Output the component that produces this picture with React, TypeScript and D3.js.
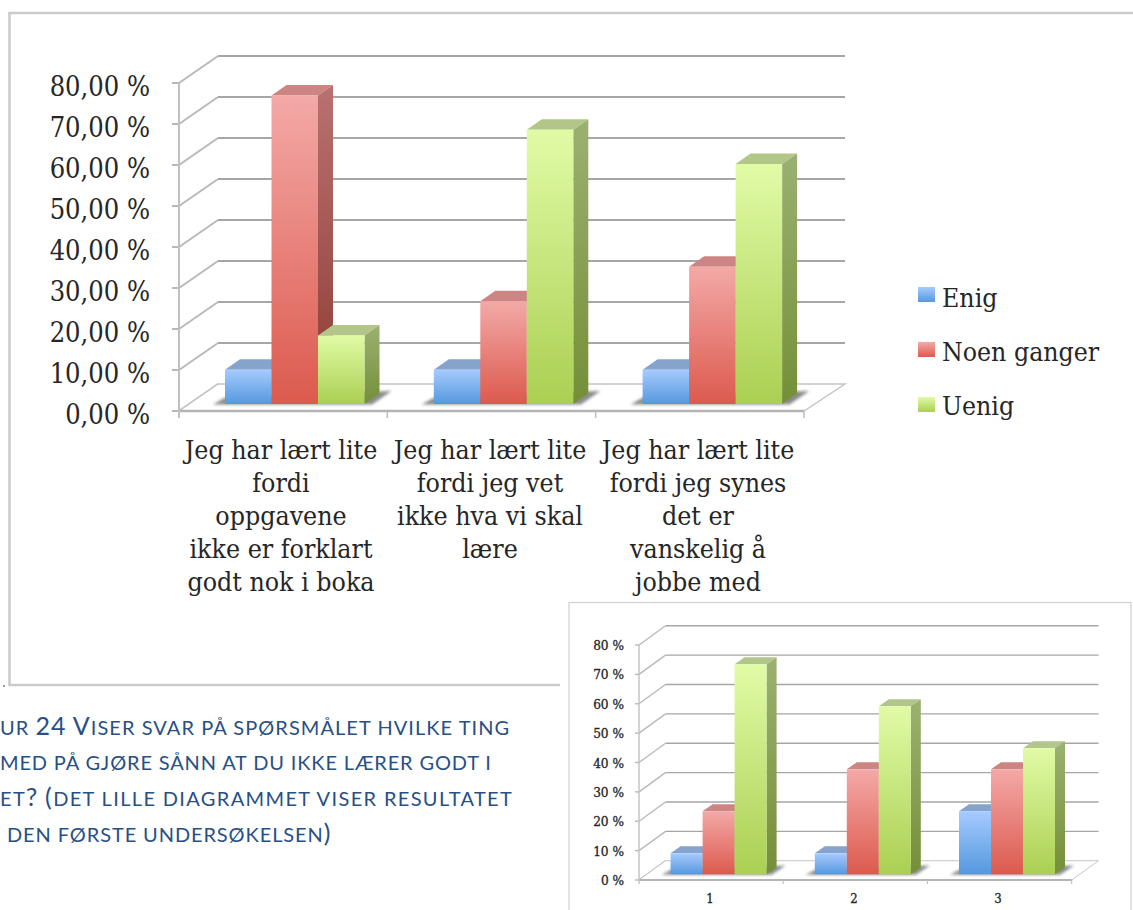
import React from "react";
import * as d3 from "d3";

// Series names shared by both panels
const seriesNames = ["Enig", "Noen ganger", "Uenig"];

// Main panel: second survey, share of answers per statement
const mainCategories = [
  ["Jeg har lært lite", "fordi", "oppgavene", "ikke er forklart", "godt nok i boka"],
  ["Jeg har lært lite", "fordi jeg vet", "ikke hva vi skal", "lære"],
  ["Jeg har lært lite", "fordi jeg synes", "det er", "vanskelig å", "jobbe med"],
];
const mainEnig = [8.33, 8.33, 8.33];
const mainNoenGanger = [75, 25, 33.33];
const mainUenig = [16.67, 66.67, 58.33];
const mainTicks = ["0,00 %", "10,00 %", "20,00 %", "30,00 %", "40,00 %", "50,00 %", "60,00 %", "70,00 %", "80,00 %"];

// Inset panel: first survey
const insetCategories = [["1"], ["2"], ["3"]];
const insetEnig = [7.14, 7.14, 21.43];
const insetNoenGanger = [21.43, 35.71, 35.71];
const insetUenig = [71.43, 57.14, 42.86];
const insetTicks = ["0 %", "10 %", "20 %", "30 %", "40 %", "50 %", "60 %", "70 %", "80 %"];

const captionLines = [
  "ur 24 Viser svar på spørsmålet hvilke ting",
  "med på gjøre sånn at du ikke lærer godt i",
  "et? (det lille diagrammet viser resultatet",
  "den første undersøkelsen)",
];

const serif = "'DejaVu Serif Condensed', 'DejaVu Serif', serif";
const gridColor = "#a6a6a6";

const palette = [
  { id: "blue", hi: "#a6cbff", lo: "#5598dd", top: "#86a4cb", sideHi: "#86a4cb", sideLo: "#4a7cb5" },
  { id: "red", hi: "#f3a9a7", lo: "#dc5a4e", top: "#cc8583", sideHi: "#b87270", sideLo: "#8f3b33" },
  { id: "green", hi: "#e1fba6", lo: "#abcf52", top: "#b1c688", sideHi: "#9bb172", sideLo: "#748f38" },
];

type PanelGeometry = {
  key: string;
  frontLeft: number; frontRight: number; frontBase: number; frontTop: number;
  depthX: number; depthY: number; backRight: number;
  barBase: number; barPerUnit: number;
  firstBar: number; groupStep: number; barWidth: number; barDepthX: number; barDepthY: number;
  tickEnd: number; tickFont: number; tickShift: number; tickStroke: number;
  catCentres: number[]; catBaseline: number; catLine: number; catFont: number;
  gridWidth: number; tickLen: number; shadow: number;
};

function Panel({ g, series, cats, ticks }: { g: PanelGeometry; series: number[][]; cats: string[][]; ticks: string[] }) {
  const yFront = d3.scaleLinear().domain([0, 80]).range([g.frontBase, g.frontTop]);
  const barHeight = d3.scaleLinear().domain([0, 80]).range([0, 80 * g.barPerUnit]);
  const xGroup = d3.scaleBand<number>()
    .domain(d3.range(cats.length))
    .range([g.firstBar, g.firstBar + g.groupStep * cats.length])
    .paddingInner(0).paddingOuter(0).align(0);
  const xSeries = d3.scaleLinear().domain([0, 1]).range([0, g.barWidth]);
  const values = d3.range(0, 81, 10);
  const catEdges = d3.scaleLinear().domain([0, cats.length]).range([g.frontLeft, g.frontRight]);
  const backLeft = g.frontLeft + g.depthX;
  const backRight = g.backRight;

  return (
    <g>
      {/* wall grid lines and their run along the side wall */}
      {values.map((v) => (
        <g key={v} fill="none" stroke={gridColor} strokeWidth={g.gridWidth}>
          <line x1={g.frontLeft} y1={yFront(v)} x2={backLeft} y2={yFront(v) - g.depthY} stroke="#b9b9b9" />
          {v > 0 && <line x1={backLeft} y1={yFront(v) - g.depthY} x2={backRight} y2={yFront(v) - g.depthY} />}
          <line x1={g.frontLeft - g.tickLen} y1={yFront(v)} x2={g.frontLeft} y2={yFront(v)} stroke="#b9b9b9" />
        </g>
      ))}
      {/* floor */}
      <path
        d={`M${g.frontLeft},${g.frontBase}L${backLeft},${g.frontBase - g.depthY}L${backRight},${g.frontBase - g.depthY}L${g.frontRight},${g.frontBase}Z`}
        fill="#ffffff" stroke="#c4c4c4" strokeWidth={g.gridWidth * 0.7}
      />
      <line x1={g.frontLeft} y1={g.frontBase} x2={g.frontRight} y2={g.frontBase} stroke="#b4b4b4" strokeWidth={g.gridWidth + 0.6} />
      <line x1={g.frontLeft} y1={g.frontTop} x2={g.frontLeft} y2={g.frontBase + g.tickLen} stroke="#c0c0c0" strokeWidth={g.gridWidth} />
      {d3.range(1, cats.length + 1).map((i) => (
        <line key={i} x1={catEdges(i)} y1={g.frontBase} x2={catEdges(i)} y2={g.frontBase + g.tickLen} stroke="#c0c0c0" strokeWidth={g.gridWidth * 0.8} />
      ))}

      {/* soft floor shadow and 3D columns */}
      {cats.map((_, c) => {
        const x0 = xGroup(c)!;
        const right = x0 + 3 * g.barWidth;
        return (
          <g key={c}>
            <path
              d={`M${x0 - g.shadow},${g.barBase + 0.5}L${x0},${g.barBase - g.barDepthY * 0.6}L${right + g.barDepthX + g.shadow},${g.barBase - g.barDepthY * 1.25}L${right + g.barDepthX * 0.5},${g.barBase + 0.5}Z`}
              fill="#8a8a8a" filter="url(#floorShadow)"
            />
            {series.map((vals, s) => {
              const x = x0 + xSeries(s);
              const h = barHeight(vals[c]);
              const top = g.barBase - h;
              const w = g.barWidth;
              const p = palette[s];
              return (
                <g key={s}>
                  <path d={`M${x},${top}L${x + g.barDepthX},${top - g.barDepthY}L${x + w + g.barDepthX},${top - g.barDepthY}L${x + w},${top}Z`} fill={p.top} />
                  <path d={`M${x + w},${top}L${x + w + g.barDepthX},${top - g.barDepthY}L${x + w + g.barDepthX},${g.barBase - g.barDepthY}L${x + w},${g.barBase}Z`} fill={`url(#${p.id}Side)`} />
                  <rect x={x} y={top} width={w} height={h} fill={`url(#${p.id}Front)`} />
                </g>
              );
            })}
          </g>
        );
      })}

      {/* value axis labels */}
      {ticks.map((t, i) => (
        <text key={t} x={g.tickEnd} y={yFront(values[i]) + g.tickShift} textAnchor="end" fontFamily={serif} fontSize={g.tickFont} fill="#262626" stroke="#262626" strokeWidth={g.tickStroke}>{t}</text>
      ))}
      {/* category labels */}
      {cats.map((lines, c) => (
        <text key={c} textAnchor="middle" fontFamily={serif} fontSize={g.catFont} fill="#262626" stroke="#262626" strokeWidth={g.tickStroke}>
          {lines.map((line, i) => (
            <tspan key={i} x={g.catCentres[c]} y={g.catBaseline + i * g.catLine}>{line}</tspan>
          ))}
        </text>
      ))}
    </g>
  );
}

// Small-caps caption: lower case runs become smaller capitals
function CaptionLine({ text, x, y, spacing }: { text: string; x: number; y: number; spacing: number }) {
  const runs = text.match(/[a-zæøå ]+|[^a-zæøå ]+/g) ?? [];
  return (
    <text x={x} y={y} fontFamily="Lato, sans-serif" fill="#284f86" letterSpacing={spacing}>
      {runs.map((r, i) => {
        const small = /^[a-zæøå ]+$/.test(r);
        return <tspan key={i} fontSize={small ? 20 : 25} xmlSpace="preserve">{small ? r.toUpperCase() : r}</tspan>;
      })}
    </text>
  );
}

export default function App() {
  const main: PanelGeometry = {
    key: "main", frontLeft: 179, frontRight: 804, frontBase: 411, frontTop: 83, depthX: 39, depthY: 27, backRight: 845,
    barBase: 404, barPerUnit: 4.115, firstBar: 225, groupStep: 208.8, barWidth: 46.5, barDepthX: 15, barDepthY: 10.5,
    tickEnd: 150, tickFont: 27, tickShift: 13, tickStroke: 0,
    catCentres: [281, 490, 698], catBaseline: 459, catLine: 33, catFont: 26.5,
    gridWidth: 2, tickLen: 7, shadow: 12,
  };
  const inset: PanelGeometry = {
    key: "inset", frontLeft: 639, frontRight: 1071.7, frontBase: 880, frontTop: 645, depthX: 26.5, depthY: 19.3, backRight: 1098.5,
    barBase: 874.3, barPerUnit: 2.94, firstBar: 670.6, groupStep: 144.2, barWidth: 32, barDepthX: 10, barDepthY: 7,
    tickEnd: 624, tickFont: 13.5, tickShift: 5, tickStroke: 0.3,
    catCentres: [710, 854, 998], catBaseline: 903, catLine: 14, catFont: 13,
    gridWidth: 1.4, tickLen: 4, shadow: 9,
  };

  const swatches = [287, 342, 397];
  const legendBaselines = [307, 361, 415];
  const captionX = [0, 0, 0, 7];
  const captionY = [735, 770, 806, 842];
  const captionSpacing = [1.05, 0.85, 1.35, 0.9];

  return (
    <svg width={1133} height={910} style={{ position: "absolute", left: 0, top: 0, background: "#fff" }}>
      <defs>
        {palette.map((p) => (
          <React.Fragment key={p.id}>
            <linearGradient id={`${p.id}Front`} x1="0" y1="0" x2="0" y2="1">
              <stop offset="0" stopColor={p.hi} />
              <stop offset="1" stopColor={p.lo} />
            </linearGradient>
            <linearGradient id={`${p.id}Side`} x1="0" y1="0" x2="0" y2="1">
              <stop offset="0" stopColor={p.sideHi} />
              <stop offset="1" stopColor={p.sideLo} />
            </linearGradient>
          </React.Fragment>
        ))}
        <filter id="floorShadow" x="-20%" y="-100%" width="140%" height="300%">
          <feGaussianBlur stdDeviation="1.6" />
        </filter>
      </defs>

      {/* outer frame of the main panel */}
      <path d="M1133,13L9.5,13L9.5,685L560,685" fill="none" stroke="#cbcbcb" strokeWidth={2.6} />
      <rect x={3} y={685} width={2} height={2} fill="#9a9a9a" />

      <Panel g={main} series={[mainEnig, mainNoenGanger, mainUenig]} cats={mainCategories} ticks={mainTicks} />

      {/* legend */}
      {seriesNames.map((name, i) => (
        <g key={name}>
          <rect x={918} y={swatches[i]} width={17} height={15} fill={`url(#${palette[i].id}Front)`} />
          <text x={942} y={legendBaselines[i]} fontFamily={serif} fontSize={26.4} fill="#262626">{name}</text>
        </g>
      ))}

      {captionLines.map((line, i) => (
        <CaptionLine key={i} text={line} x={captionX[i]} y={captionY[i]} spacing={captionSpacing[i]} />
      ))}

      {/* inset panel on its white card */}
      <rect x={569} y={602.5} width={562} height={320} fill="#fff" stroke="#cfcfcf" strokeWidth={1.2} />
      <Panel g={inset} series={[insetEnig, insetNoenGanger, insetUenig]} cats={insetCategories} ticks={insetTicks} />
    </svg>
  );
}
